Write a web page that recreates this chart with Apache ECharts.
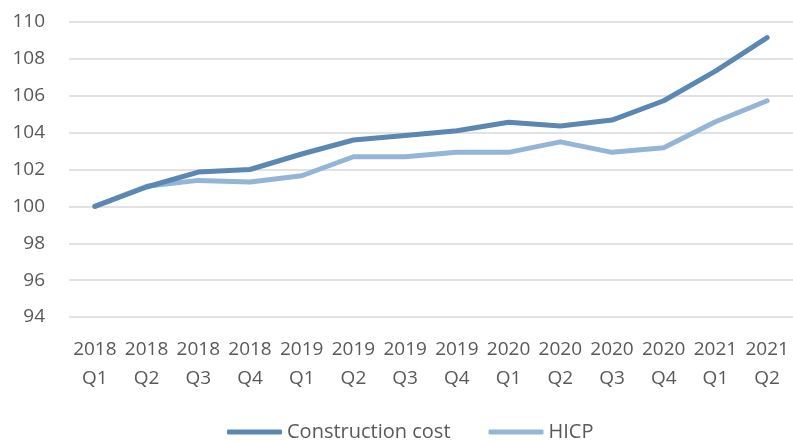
<!DOCTYPE html>
<html>
<head>
<meta charset="utf-8">
<script src="https://cdn.jsdelivr.net/npm/echarts@6/dist/echarts.min.js"></script>
<style>
  html, body { margin: 0; padding: 0; background: #fff; }
  #chart { width: 793px; height: 441px; }
</style>
</head>
<body>
<div id="chart"></div>
<script>
const quarters = [
  "2018\nQ1", "2018\nQ2", "2018\nQ3", "2018\nQ4",
  "2019\nQ1", "2019\nQ2", "2019\nQ3", "2019\nQ4",
  "2020\nQ1", "2020\nQ2", "2020\nQ3", "2020\nQ4",
  "2021\nQ1", "2021\nQ2"
];
const constructionCost = [100, 101.05, 101.86, 102.0, 102.84, 103.6, 103.85, 104.1, 104.56, 104.36, 104.68, 105.73, 107.34, 109.15];
const hicp = [100, 101.09, 101.41, 101.32, 101.66, 102.69, 102.69, 102.93, 102.93, 103.5, 102.93, 103.18, 104.59, 105.73];

const textColor = "#595959";
const font = "'Open Sans', 'Noto Sans', sans-serif";

const chart = echarts.init(document.getElementById("chart"));

chart.setOption({
  animation: false,
  grid: {
    left: 69,
    right: 0,
    top: 22,
    bottom: 124,
  },
  legend: {
    bottom: -6,
    left: 222,
    itemWidth: 55,
    itemHeight: 5,
    itemGap: 38,
    icon: "roundRect",
    textStyle: { color: textColor, fontSize: 20, fontFamily: font },
  },
  xAxis: {
    type: "category",
    data: quarters,
    boundaryGap: true,
    axisLine: { show: false },
    axisTick: { show: false },
    axisLabel: {
      color: textColor,
      fontSize: 19,
      fontFamily: font,
      lineHeight: 29,
      margin: 18,
      interval: 0,
    },
  },
  yAxis: {
    type: "value",
    min: 94,
    max: 110,
    interval: 2,
    axisLine: { show: false },
    axisTick: { show: false },
    axisLabel: {
      color: textColor,
      fontSize: 19,
      fontFamily: font,
      margin: 24,
    },
    splitLine: { lineStyle: { color: "#d9d9d9", width: 1.5 } },
  },
  series: [
    {
      name: "Construction cost",
      type: "line",
      data: constructionCost,
      showSymbol: false,
      lineStyle: { color: "#5b87b3", width: 5, cap: "round", join: "round" },
      itemStyle: { color: "#5b87b3" },
      z: 3,
    },
    {
      name: "HICP",
      type: "line",
      data: hicp,
      showSymbol: false,
      lineStyle: { color: "#95b5d8", width: 5, cap: "round", join: "round" },
      itemStyle: { color: "#95b5d8" },
      z: 2,
    },
  ],
});

window.addEventListener("resize", () => {
  chart.resize();
});
</script>
</body>
</html>
